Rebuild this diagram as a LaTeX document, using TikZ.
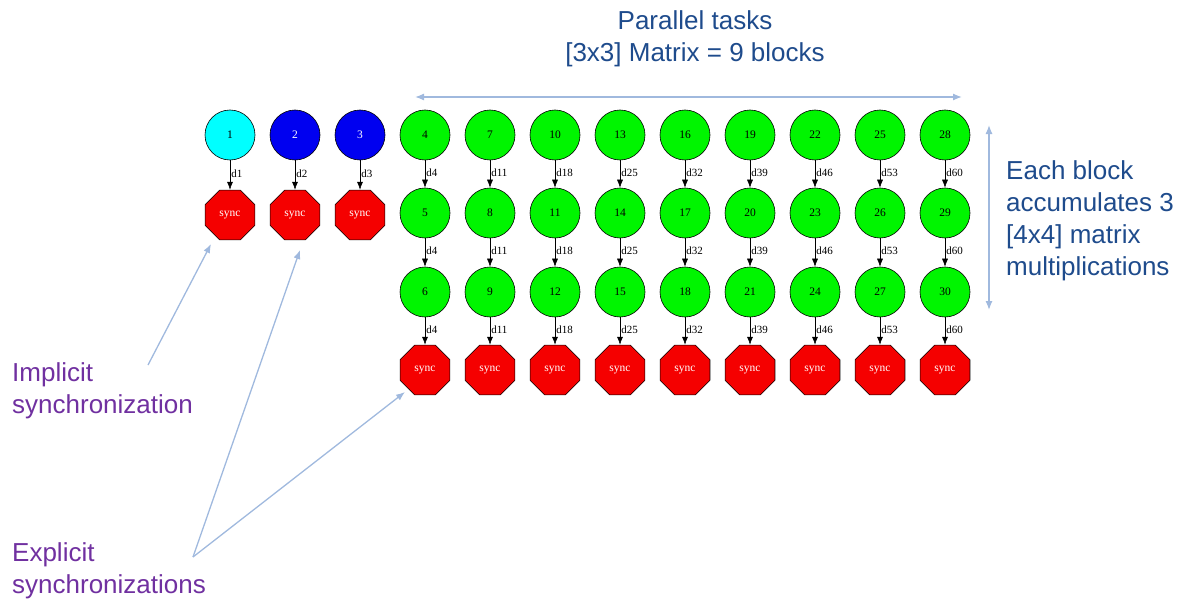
\documentclass[tikz,border=0pt]{standalone}
\usepackage{fontspec}
\setmainfont{Liberation Serif}
\newfontfamily\annofont{Liberation Sans}
\usetikzlibrary{shapes.geometric,arrows.meta}
\definecolor{notepurple}{RGB}{112,48,160}
\definecolor{notenavy}{RGB}{30,75,140}
\definecolor{notelight}{RGB}{160,185,222}
\definecolor{taskcyan}{RGB}{0,255,255}
\definecolor{taskblue}{RGB}{0,0,240}
\definecolor{taskgreen}{RGB}{0,245,0}
\definecolor{syncred}{RGB}{245,0,0}
\begin{document}
\begin{tikzpicture}[x=1pt,y=-1pt,
  task/.style={circle,draw=black,line width=0.6pt,minimum size=50pt,inner sep=0pt,font=\fontsize{11.5}{13}\selectfont},
  syncnode/.style={regular polygon,regular polygon sides=8,draw=black,line width=0.6pt,fill=syncred,text=white,minimum size=54pt,inner sep=0pt,font=\fontsize{11.5}{13}\selectfont},
  dep/.style={-{Latex[length=8pt,width=6pt]},line width=0.5pt,black},
  elab/.style={right,inner sep=1pt,pos=0.45,font=\fontsize{11}{12}\selectfont},
  notearrow/.style={draw=notelight,line width=1.3pt,-{Latex[length=9pt,width=7pt]}},
  dimarrow/.style={draw=notelight,line width=1.3pt,{Latex[length=9pt,width=7pt]}-{Latex[length=9pt,width=7pt]}},
  notetext/.style={font=\annofont\fontsize{26}{32}\selectfont,inner sep=0pt}
]
\useasboundingbox (0,0) rectangle (1187,602);

% first three tasks with implicit syncs
\foreach \n/\x/\col/\tc in {1/230/taskcyan/black,2/295/taskblue/white,3/360/taskblue/white} {
  \node[task,fill=\col,text=\tc] (c\n) at (\x,135) {\n};
  \node[syncnode] (s\n) at (\x,215) {sync};
  \draw[dep] (c\n) -- node[elab]{d\n} (s\n);
}

% parallel block chains
\foreach \k in {0,...,8} {
  \pgfmathtruncatemacro\a{4+3*\k}
  \pgfmathtruncatemacro\b{5+3*\k}
  \pgfmathtruncatemacro\c{6+3*\k}
  \pgfmathtruncatemacro\d{4+7*\k}
  \pgfmathsetmacro\x{425+65*\k}
  \node[task,fill=taskgreen] (c\a) at (\x,135) {\a};
  \node[task,fill=taskgreen] (c\b) at (\x,213) {\b};
  \node[task,fill=taskgreen] (c\c) at (\x,292) {\c};
  \node[syncnode] (sb\k) at (\x,370) {sync};
  \draw[dep] (c\a) -- node[elab]{d\d} (c\b);
  \draw[dep] (c\b) -- node[elab]{d\d} (c\c);
  \draw[dep] (c\c) -- node[elab]{d\d} (sb\k);
}

% dimension arrows
\coordinate (parL) at (415,97);
\coordinate (parR) at (962,97);
\draw[dimarrow] (parL) -- (parR);
\coordinate (accT) at (989,125);
\coordinate (accB) at (989,310);
\draw[dimarrow] (accT) -- (accB);

% texts
\node[notetext,text=notenavy,align=center] (ptitle) at (695,39) {Parallel tasks\\{[3x3] Matrix = 9 blocks}};
\node[notetext,text=notenavy,align=left,anchor=west] (accnote) at (1006,221) {Each block\\accumulates 3\\{[4x4] matrix}\\multiplications};
\node[notetext,text=notepurple,align=left,anchor=west] (impl) at (12,391) {Implicit\\synchronization};
\node[notetext,text=notepurple,align=left,anchor=west] (expl) at (12,571) {Explicit\\synchronizations};

% annotation arrows
\coordinate (implFrom) at (148,365);
\coordinate (implTo) at (211,244);
\draw[notearrow] (implFrom) -- (implTo);
\coordinate (explFrom) at (193,557);
\coordinate (explToA) at (300,250);
\coordinate (explToB) at (405,392);
\draw[notearrow] (explFrom) -- (explToA);
\draw[notearrow] (explFrom) -- (explToB);
\end{tikzpicture}
\end{document}
